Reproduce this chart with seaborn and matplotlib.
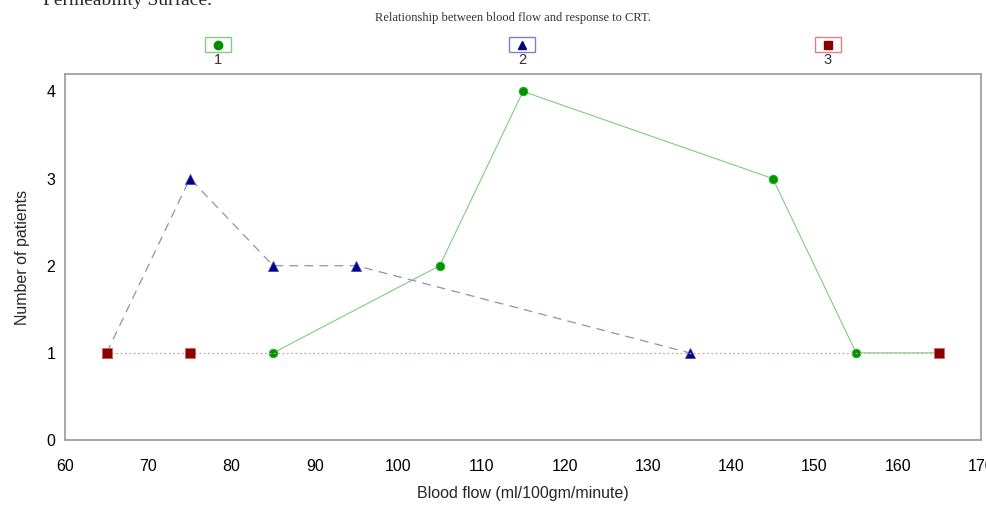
import matplotlib
matplotlib.use("Agg")
import matplotlib.pyplot as plt
import seaborn as sns
from matplotlib.patches import Rectangle

# data
flow_1 = [85, 105, 115, 145, 155, 165]
count_1 = [1, 2, 4, 3, 1, 1]
flow_2 = [65, 75, 85, 95, 135]
count_2 = [1, 3, 2, 2, 1]
flow_3 = [65, 75, 165]
count_3 = [1, 1, 1]
group_labels = ["1", "2", "3"]
x_ticks = list(range(60, 171, 10))
y_ticks = [0, 1, 2, 3, 4]

sns.set_theme(style="white")
plt.rcParams["font.family"] = ["Liberation Sans", "DejaVu Sans"]

fig = plt.figure(figsize=(9.86, 5.08), dpi=100)
ax = fig.add_axes([65 / 986, 1 - 440 / 508, (981 - 65) / 986, (440 - 74) / 508])

# ===== SERIES =====
sns.lineplot(x=flow_1, y=count_1, ax=ax, color="#80cc80", linewidth=0.8,
             marker="o", markersize=6, markerfacecolor="#009000",
             markeredgecolor="#22b022", markeredgewidth=0.8, zorder=3)
sns.lineplot(x=flow_2, y=count_2, ax=ax, color="#9090b4", linewidth=0.9,
             linestyle=(0, (7, 5)), marker="^", markersize=7,
             markerfacecolor="#000080", markeredgecolor="#4040c0",
             markeredgewidth=0.6, zorder=3)
sns.lineplot(x=flow_3, y=count_3, ax=ax, color="#c8a8a8", linewidth=0.9,
             linestyle=(0, (1.5, 2)), marker="s", markersize=6.5,
             markerfacecolor="#880000", markeredgecolor="#e06060",
             markeredgewidth=0.6, zorder=4)

# ===== AXES =====
ax.set_xlim(60, 170)
ax.set_ylim(0, 4.2)
ax.set_xticks(x_ticks)
ax.set_yticks(y_ticks)
ax.tick_params(axis="both", direction="out", length=5, width=0.9,
               color="#888888", labelsize=11.5, labelcolor="black", pad=2)
ax.tick_params(axis="x", pad=9)
for s in ax.spines.values():
    s.set_color("#999999")
    s.set_linewidth(1.2)
ax.set_xlabel("Blood flow (ml/100gm/minute)", fontsize=11.5, labelpad=8)
ax.set_ylabel("Number of patients", fontsize=11.5, labelpad=12)

# ===== TITLE AND LEGEND =====
fig.text(43 / 986, 1 - 5 / 508, "Permeability Surface.", family="Liberation Serif",
         fontsize=14, ha="left", va="baseline")
fig.text(513 / 986, 1 - 18 / 508, "Relationship between blood flow and response to CRT.",
         family="Liberation Serif", fontsize=9, color="#333333", ha="center", va="center")

lax = fig.add_axes([0, 1 - 68 / 508, 1, 36 / 508])
lax.set_xlim(0, 986)
lax.set_ylim(68, 32)
lax.axis("off")
key_x = [218, 522, 828]
key_style = [("o", "#009000", "#80d080"), ("^", "#000080", "#8080c0"), ("s", "#880000", "#e08080")]
for kx, lab, (m, fc, bc) in zip(key_x, group_labels, key_style):
    lax.add_patch(Rectangle((kx - 13, 37), 26, 15, fill=False, edgecolor=bc, linewidth=1))
    lax.plot([kx], [44.5], marker=m, markersize=6, color=fc, linestyle="none")
    lax.text(kx, 60, lab, ha="center", va="center", fontsize=10.5, color="#333333")

fig.savefig("out.png", dpi=100)
